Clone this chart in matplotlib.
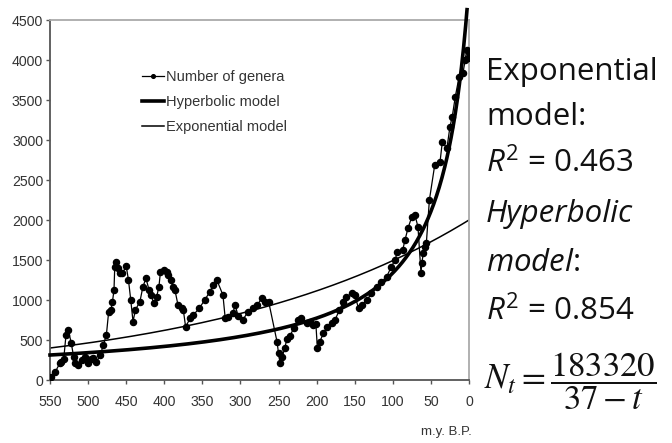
import matplotlib.pyplot as plt
import numpy as np

# Number of marine genera (millions of years before present)
age_ma = [549, 543, 537, 535, 532, 529, 526, 522, 519, 517, 513, 508, 504, 500,
          496, 493, 489, 484, 480, 476, 473, 470, 468, 466, 465, 463, 461, 458,
          455, 450, 447, 444, 441, 438, 432, 428, 424, 420, 417, 414, 410, 407,
          405, 401, 397, 395, 391, 389, 386, 382, 377, 375, 372, 366, 362, 354,
          347, 340, 336, 331, 323, 320, 316, 310, 307, 303, 297, 290, 283, 278,
          272, 268, 263, 252, 250, 248, 245, 242, 239, 235, 230, 224, 220, 213,
          209, 205, 201, 199, 196, 191, 186, 180, 176, 170, 165, 161, 154, 150,
          145, 141, 134, 128, 121, 115, 108, 102, 97, 94, 87, 84, 80, 75, 71,
          67, 63, 62, 60, 58, 56, 52, 45, 38, 35, 29, 25, 22, 18, 13, 8, 5, 3,
          1, 0]
genera = [41, 104, 210, 229, 260, 563, 625, 458, 291, 210, 187, 250, 291, 208,
          260, 271, 229, 312, 437, 562, 854, 875, 979, 1125, 1417, 1479, 1396, 1333,
          1333, 1425, 1250, 1000, 729, 875, 979, 1167, 1271, 1125, 1062, 958, 1041, 1167,
          1354, 1375, 1354, 1312, 1250, 1167, 1125, 937, 896, 875, 666, 770, 812, 896,
          1000, 1104, 1187, 1250, 1062, 770, 791, 833, 937, 800, 750, 854, 896, 937,
          1021, 979, 979, 479, 333, 208, 291, 396, 510, 550, 650, 750, 770, 708,
          729, 687, 700, 396, 479, 583, 666, 708, 750, 875, 979, 1041, 1083, 1062,
          896, 937, 1000, 1083, 1167, 1229, 1291, 1417, 1500, 1604, 1625, 1750, 1900, 2041, 2062,
          1916, 1333, 1458, 1583, 1666, 1708, 2250, 2687, 2729, 2979, 2896, 3166, 3291, 3541, 3791, 3833, 4000, 4125,
          4021, 4104]

# model parameters
hyp_c, hyp_t0 = 183320, 37      # N = C / (t0 - t), t = -age
exp_n0, exp_k = 2000, 0.002927  # N = N0 * exp(-k * age)

x_ticks = [550, 500, 450, 400, 350, 300, 250, 200, 150, 100, 50, 0]
y_ticks = [0, 500, 1000, 1500, 2000, 2500, 3000, 3500, 4000, 4500]

side_font = 'Open Sans'
plt.rcParams['mathtext.fontset'] = 'custom'
plt.rcParams['mathtext.rm'] = side_font
plt.rcParams['mathtext.it'] = side_font + ':italic'

fig = plt.figure(figsize=(6.72, 4.43), dpi=100)
ax = fig.add_axes([50 / 672, 1 - 380 / 443, 419 / 672, 360 / 443])

hyp_age = np.linspace(550, 2.6, 600)
hyp_vals = hyp_c / (hyp_t0 + hyp_age)
exp_age = np.linspace(550, 0, 300)
exp_vals = exp_n0 * np.exp(-exp_k * exp_age)

ax.plot(age_ma, genera, color='black', lw=0.9, marker='o', ms=4.4,
        label='Number of genera', zorder=3)
ax.plot(hyp_age, hyp_vals, color='black', lw=2.6, label='Hyperbolic model',
        clip_on=False, zorder=4)
ax.plot(exp_age, exp_vals, color='black', lw=1.1, label='Exponential model', zorder=2)

ax.set_xlim(550, 0)
ax.set_ylim(0, 4500)
ax.set_xticks(x_ticks)
ax.set_yticks(y_ticks)
for lab in ax.get_xticklabels() + ax.get_yticklabels():
    lab.set_family('Liberation Sans')
    lab.set_fontsize(10.2)
    lab.set_color('#333333')
ax.tick_params(direction='out', length=3, width=1, color='#555555')
ax.tick_params(axis='x', pad=8)
ax.tick_params(axis='y', pad=2)

for s in ['left', 'bottom']:
    ax.spines[s].set_color('#555555')
    ax.spines[s].set_linewidth(1.3)
for s in ['top', 'right']:
    ax.spines[s].set_color('#aaaaaa')
    ax.spines[s].set_linewidth(1.3)

leg = ax.legend(loc='upper left', bbox_to_anchor=(0.205, 0.877), frameon=False,
                prop={'family': 'Liberation Sans', 'size': 10.5}, handlelength=1.5,
                handletextpad=0.15, labelspacing=0.75, markerscale=0.6,
                borderaxespad=0)
for t in leg.get_texts():
    t.set_color('#333333')

fig.text(472 / 672, 1 - 432 / 443, 'm.y. B.P.', ha='right', va='center',
         family='Liberation Sans', fontsize=9.5, color='#333333')

tx = 486 / 672
kw = dict(ha='left', va='center', family=side_font, fontsize=22.5, color='#111111',
          math_fontfamily='custom')
fig.text(tx, 1 - 72 / 443, 'Exponential', **kw)
fig.text(tx, 1 - 117 / 443, 'model:', **kw)
fig.text(tx, 1 - 163 / 443, r'$R^2$ = 0.463', **kw)
fig.text(tx, 1 - 214 / 443, 'Hyperbolic', style='italic', **kw)
fig.text(tx, 1 - 263 / 443, r'$\mathit{model}$:', **kw)
fig.text(tx, 1 - 311 / 443, r'$R^2$ = 0.854', **kw)
fig.text(484 / 672, 1 - 381 / 443, r'$N_t = \dfrac{183320}{37 - t}$', ha='left',
         va='center', fontsize=25, color='#111111', math_fontfamily='stix')

fig.savefig('out.png', dpi=100)
